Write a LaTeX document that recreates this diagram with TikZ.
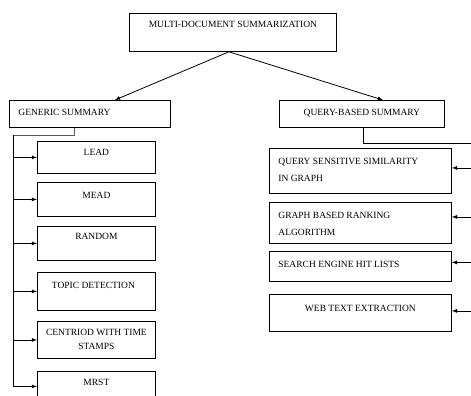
\documentclass[tikz,border=0pt]{standalone}
\usepackage{fontspec}
\setmainfont{Liberation Serif}
\tikzset{
  box/.style={draw, rectangle, anchor=north west, inner sep=0pt},
  ttl/.style={anchor=north, inner sep=0pt, yshift=-8pt, align=center,
    font=\fontsize{9.5}{14}\selectfont},
  ttlw/.style={anchor=north west, inner sep=0pt, xshift=9pt, yshift=-10pt, align=left,
    font=\fontsize{9.5}{17}\selectfont},
}
\begin{document}
\begin{tikzpicture}[x=1pt,y=-1pt,line width=0.8pt]
            \useasboundingbox (0,0) rectangle (471,396);

            % Draw the top box and the two kinds of summary
            \node[box, minimum width=207pt, minimum height=38pt,
              label={[ttl]north:MULTI-DOCUMENT SUMMARIZATION}] (mds) at (129,13) {};
            \node[box, minimum width=161pt, minimum height=27pt,
              label={[ttlw, yshift=1pt]north west:GENERIC SUMMARY}] (gen) at (9,100) {};
            \node[box, minimum width=165pt, minimum height=27pt,
              label={[ttl, yshift=-1pt]north:QUERY-BASED SUMMARY}] (qbs) at (279,100) {};

            \draw[-latex] ([xshift=-4pt]mds.south) -- ([xshift=25pt]gen.north);
            \draw[-latex] ([xshift=-4pt]mds.south) -- ([xshift=21pt]qbs.north);

            % Draw the generic methods
            \node[box, minimum width=118pt, minimum height=32pt, label={[ttl]north:LEAD}] (lead) at (37,141) {};
            \node[box, minimum width=118pt, minimum height=34pt, label={[ttl, yshift=-2pt]north:MEAD}] (mead) at (37,182) {};
            \node[box, minimum width=118pt, minimum height=34pt, label={[ttl, yshift=1pt]north:RANDOM}] (random) at (37,226) {};
            \node[box, minimum width=118pt, minimum height=38pt, label={[ttl, xshift=-3pt, yshift=-2pt]north:TOPIC DETECTION}] (topic) at (37,272) {};
            \node[box, minimum width=118pt, minimum height=37pt, label={[ttl]north:CENTRIOD WITH TIME\\STAMPS}] (centroid) at (37,321) {};
            \node[box, minimum width=118pt, minimum height=30pt, label={[ttl]north:MRST}] (mrst) at (37,371) {};

            % Draw the query based methods
            \node[box, minimum width=182pt, minimum height=45pt, label={[ttlw]north west:QUERY SENSITIVE SIMILARITY\\IN GRAPH}] (qss) at (269,148) {};
            \node[box, minimum width=182pt, minimum height=41pt, label={[ttlw]north west:GRAPH BASED RANKING\\ALGORITHM}] (gbr) at (269,202) {};
            \node[box, minimum width=182pt, minimum height=30pt, label={[ttlw]north west:SEARCH ENGINE HIT LISTS}] (hit) at (269,251) {};
            \node[box, minimum width=182pt, minimum height=37pt, label={[ttl, yshift=-3pt]north:WEB TEXT EXTRACTION}] (web) at (269,294) {};

            % Draw the left spine
            \coordinate (ls) at (13,135);
            \draw[gray!70!black] ([xshift=-16pt]gen.south) |- (ls);
            \draw[-latex] (ls) |- (mrst.west);
            \draw[-latex] (ls |- lead.west) -- (lead.west);
            \draw[-latex] (ls |- mead.west) -- (mead.west);
            \draw[-latex] (ls |- random.west) -- (random.west);
            \draw[-latex] (ls |- topic.west) -- (topic.west);
            \draw[-latex] (ls |- centroid.west) -- (centroid.west);

            % Draw the right spine
            \coordinate (rs) at (476,143);
            \draw ([xshift=1pt]qbs.south) |- (rs) -- (476,330);
            \draw[-latex] ([yshift=3pt]qss.east -| rs) -- ([yshift=3pt]qss.east);
            \draw[-latex] ([yshift=6pt]gbr.east -| rs) -- ([yshift=6pt]gbr.east);
            \draw[-latex] ([yshift=4pt]hit.east -| rs) -- ([yshift=4pt]hit.east);
            \draw[-latex] ([yshift=2pt]web.east -| rs) -- ([yshift=2pt]web.east);

        \end{tikzpicture}
\end{document}
